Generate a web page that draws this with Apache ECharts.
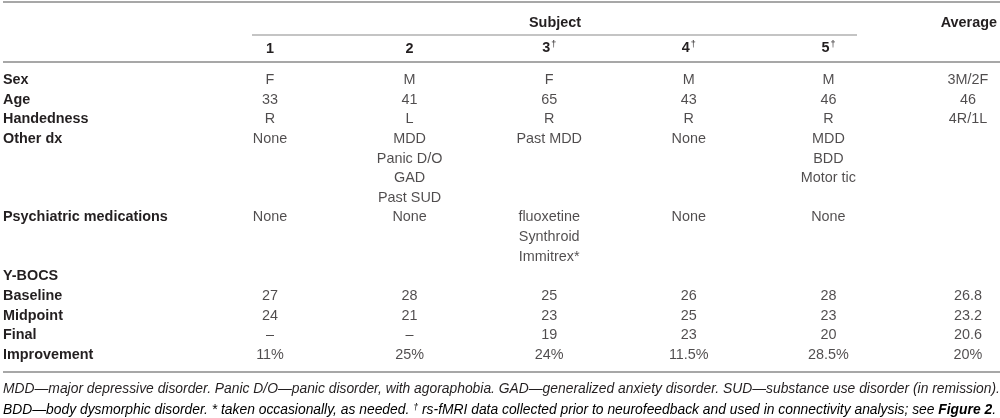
<!DOCTYPE html>
<html>
<head>
<meta charset="UTF-8">
<title>Subject characteristics</title>
<script src="https://cdn.jsdelivr.net/npm/echarts@6/dist/echarts.min.js"></script>
<style>
html,body{margin:0;padding:0;background:#fff;}
#main{width:1000px;height:418px;}
</style>
</head>
<body>
<div id="main"></div>
<script type="text/javascript">
// columns: 5 subjects + average
var colLabels = ['1', '2', '3', '4', '5', ''];
var colDagger = [false, false, true, true, true, false];
// one entry per text line of the table body
var rowLabels = ['Sex', 'Age', 'Handedness', 'Other dx', '', '', '',
    'Psychiatric medications', '', '', 'Y-BOCS', 'Baseline', 'Midpoint', 'Final', 'Improvement'];

var sex = ['F', 'M', 'F', 'M', 'M', '3M/2F'];
var age = ['33', '41', '65', '43', '46', '46'];
var handedness = ['R', 'L', 'R', 'R', 'R', '4R/1L'];
var otherDx = [['None'], ['MDD', 'Panic D/O', 'GAD', 'Past SUD'], ['Past MDD'], ['None'], ['MDD', 'BDD', 'Motor tic'], []];
var medications = [['None'], ['None'], ['fluoxetine', 'Synthroid', 'Immitrex*'], ['None'], ['None'], []];
var baseline = ['27', '28', '25', '26', '28', '26.8'];
var midpoint = ['24', '21', '23', '25', '23', '23.2'];
var finalScore = ['\u2013', '\u2013', '19', '23', '20', '20.6'];
var improvement = ['11%', '25%', '24%', '11.5%', '28.5%', '20%'];

var note1 = 'MDD\u2014major depressive disorder. Panic D/O\u2014panic disorder, with agoraphobia. GAD\u2014generalized anxiety disorder. SUD\u2014substance use disorder (in remission).';
var note2a = 'BDD\u2014body dysmorphic disorder. * taken occasionally, as needed. ';
var note2b = ' rs-fMRI data collected prior to neurofeedback and used in connectivity analysis; see ';

var FONT = '"Liberation Sans", Arial, Helvetica, sans-serif';
var INK = '#231f20';
var RULE = '#8a8a8a';
var FS = 14.4;
var NS = 13.85;

// build cells: [column, line, text]
var cells = [];
function addRow(line, vals) {
    for (var c = 0; c < vals.length; c++) {
        cells.push([c, line, vals[c]]);
    }
}
function addMulti(line, lists) {
    for (var c = 0; c < lists.length; c++) {
        for (var k = 0; k < lists[c].length; k++) {
            cells.push([c, line + k, lists[c][k]]);
        }
    }
}
addRow(0, sex);
addRow(1, age);
addRow(2, handedness);
addMulti(3, otherDx);
addMulti(7, medications);
addRow(11, baseline);
addRow(12, midpoint);
addRow(13, finalScore);
addRow(14, improvement);

var myChart = echarts.init(document.getElementById('main'));
myChart.setOption({
    animation: false,
    grid: {left: 270, right: 32, top: 80, bottom: 63},
    xAxis: {
        type: 'category',
        position: 'top',
        data: colLabels,
        boundaryGap: false,
        axisLine: {show: false},
        axisTick: {show: false},
        splitLine: {show: false},
        axisLabel: {
            interval: 0,
            margin: 24,
            formatter: function (v, i) {
                return colDagger[i] ? '{n|' + v + '}{d|\u2020}' : '{n|' + v + '}';
            },
            rich: {
                n: {fontFamily: FONT, fontWeight: 'bold', fontSize: FS, color: INK},
                d: {fontFamily: FONT, fontSize: 9, color: INK, verticalAlign: 'top', padding: [0, 0, 7, 1]}
            }
        }
    },
    yAxis: {
        type: 'category',
        inverse: true,
        data: rowLabels,
        boundaryGap: false,
        axisLine: {show: false},
        axisTick: {show: false},
        splitLine: {show: false},
        axisLabel: {
            interval: 0,
            align: 'left',
            margin: 267,
            fontFamily: FONT,
            fontWeight: 'bold',
            fontSize: FS,
            color: INK
        }
    },
    series: [{
        type: 'scatter',
        symbolSize: 0,
        data: cells,
        label: {
            show: true,
            position: 'inside',
            formatter: function (p) { return p.value[2]; },
            fontFamily: FONT,
            fontSize: FS,
            color: INK
        }
    }],
    graphic: [
        {type: 'line', shape: {x1: 3, y1: 2, x2: 1000, y2: 2}, style: {stroke: RULE, lineWidth: 1.5}},
        {type: 'line', shape: {x1: 252, y1: 35, x2: 857, y2: 35}, style: {stroke: RULE, lineWidth: 1.2}},
        {type: 'line', shape: {x1: 3, y1: 62, x2: 1000, y2: 62}, style: {stroke: RULE, lineWidth: 1.5}},
        {type: 'line', shape: {x1: 3, y1: 372, x2: 1000, y2: 372}, style: {stroke: RULE, lineWidth: 1.5}},
        {type: 'text', style: {x: 555, y: 23, text: 'Subject', textAlign: 'center', textVerticalAlign: 'middle',
            font: 'bold ' + FS + 'px ' + FONT, fill: INK}},
        {type: 'text', style: {x: 997, y: 23, text: 'Average', textAlign: 'right', textVerticalAlign: 'middle',
            font: 'bold ' + FS + 'px ' + FONT, fill: INK}},
        {type: 'text', style: {x: 3, y: 389, text: note1, textAlign: 'left', textVerticalAlign: 'middle',
            font: 'italic ' + NS + 'px ' + FONT, fill: INK}},
        {type: 'text', style: {x: 3, y: 410, textAlign: 'left', textVerticalAlign: 'middle',
            text: '{i|' + note2a + '}{s|\u2020}{i|' + note2b + '}{b|Figure 2}{i|.}',
            rich: {
                i: {fontFamily: FONT, fontStyle: 'italic', fontSize: NS, color: INK},
                b: {fontFamily: FONT, fontStyle: 'italic', fontWeight: 'bold', fontSize: NS, color: INK},
                s: {fontFamily: FONT, fontStyle: 'italic', fontSize: 9, color: INK, verticalAlign: 'top', padding: [0, 0, 6, 0]}
            }}}
    ]
});
</script>
</body>
</html>
